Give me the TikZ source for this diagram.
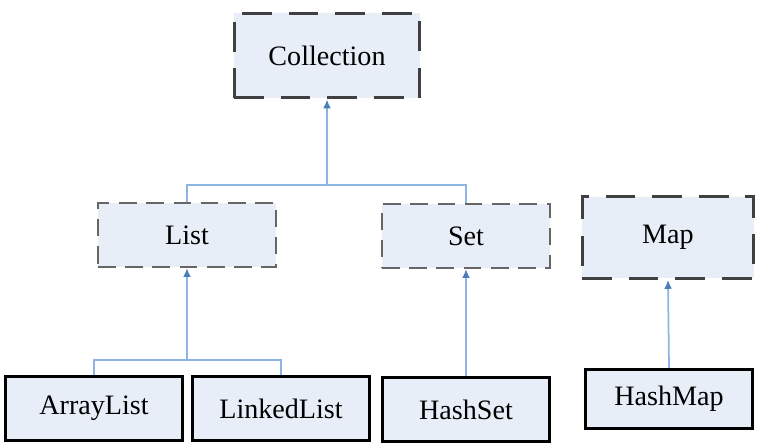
\documentclass[tikz,border=0pt]{standalone}
\usepackage{fontspec}
\setmainfont{Liberation Serif}
\usetikzlibrary{arrows.meta}

\definecolor{boxfill}{HTML}{E8EEF8}
\definecolor{linkblue}{HTML}{8EB4E3}
\definecolor{tipblue}{HTML}{4A7EBB}

\begin{document}
\begin{tikzpicture}[x=0.02cm, y=0.02cm,
    every node/.style={font=\fontsize{16}{18}\selectfont, fill=boxfill, inner sep=0pt},
    top node/.style={draw=black!75, line width=1.7pt, dash pattern=on 17pt off 9.5pt},
    iface node/.style={draw=black!60, line width=1.3pt, dash pattern=on 10pt off 5.5pt},
    class node/.style={draw=black, line width=1.9pt},
    link/.style={draw=linkblue, line width=1pt},
    to parent/.style={link, -{Latex[length=5pt,width=4.5pt,color=tipblue]}}]

  \useasboundingbox (0,0) rectangle (764,447);

  % interfaces
  \node[top node, minimum width=3.72cm, minimum height=1.7cm] (collection) at (327,391.5) {Collection};
  \node[iface node, minimum width=3.56cm, minimum height=1.28cm] (list) at (187,212) {List};
  \node[iface node, minimum width=3.36cm, minimum height=1.28cm] (set) at (466,211) {Set};
  \node[top node, minimum width=3.44cm, minimum height=1.64cm] (map) at (668,209.5) {Map};

  % classes
  \node[class node, minimum width=3.54cm, minimum height=1.28cm] (arraylist) at (94,38.5) {ArrayList};
  \node[class node, minimum width=3.54cm, minimum height=1.28cm] (linkedlist) at (281,38.5) {LinkedList};
  \node[class node, minimum width=3.34cm, minimum height=1.28cm] (hashset) at (466,37.5) {HashSet};
  \node[class node, minimum width=3.34cm, minimum height=1.18cm] (hashmap) at (669,48) {HashMap};

  % junctions
  \coordinate (topjoin) at (327,262);
  \coordinate (listjoin) at (187,87);

  \path[link] (list.north) |- (topjoin);
  \path[link] (set.north) |- (topjoin);
  \path[to parent] (topjoin) -- (collection.south);

  \path[link] (arraylist.north) |- (listjoin);
  \path[link] (linkedlist.north) |- (listjoin);
  \path[to parent] (listjoin) -- (list.south);

  \path[to parent] (hashset.north) -- (set.south);
  \path[to parent] (hashmap.north) -- (map.south);

\end{tikzpicture}
\end{document}
